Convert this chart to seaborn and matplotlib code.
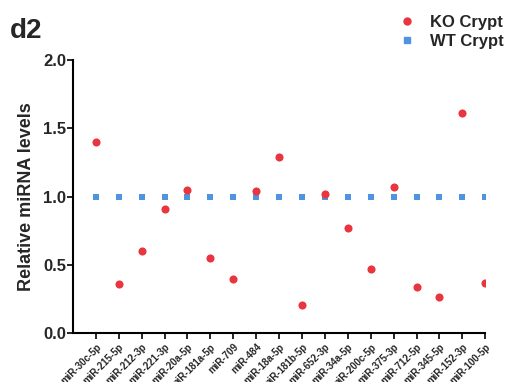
import pandas as pd
import matplotlib
matplotlib.use("Agg")
import matplotlib.pyplot as plt
import seaborn as sns

mirnas = ["miR-30c-5p", "miR-215-5p", "miR-212-3p", "miR-221-3p", "miR-20a-5p",
          "miR-181a-5p", "miR-709", "miR-484", "miR-18a-5p", "miR-181b-5p",
          "miR-652-3p", "miR-34a-5p", "miR-200c-5p", "miR-375-3p", "miR-712-5p",
          "miR-345-5p", "miR-152-3p", "miR-100-5p"]
ko_crypt = [1.40, 0.36, 0.60, 0.91, 1.05, 0.55, 0.40, 1.04, 1.29, 0.21,
            1.02, 0.77, 0.47, 1.07, 0.34, 0.27, 1.61, 0.37]
wt_crypt = [1.0] * len(mirnas)

df = pd.concat([
    pd.DataFrame({"miRNA": mirnas, "level": wt_crypt, "group": "WT Crypt"}),
    pd.DataFrame({"miRNA": mirnas, "level": ko_crypt, "group": "KO Crypt"}),
])

sns.set_style("ticks")
plt.rcParams["font.family"] = ["Liberation Sans", "DejaVu Sans"]
plt.rcParams["font.weight"] = "bold"

fig = plt.figure(figsize=(5.14, 3.82), dpi=100)
ax = fig.add_axes([0.142, 0.127, 0.802, 0.716])

palette = {"KO Crypt": "#e8353f", "WT Crypt": "#4f94de"}
markers = {"KO Crypt": "o", "WT Crypt": "s"}
sizes = {"KO Crypt": 34, "WT Crypt": 20}

for grp in ["WT Crypt", "KO Crypt"]:
    sub = df[df["group"] == grp]
    sns.scatterplot(data=sub, x="miRNA", y="level", ax=ax, color=palette[grp],
                    marker=markers[grp], s=sizes[grp], linewidth=0, label=grp,
                    legend=False, zorder=3)

ax.set_xlim(-1, 17)
ax.set_ylim(0, 2.0)
ax.set_yticks([0.0, 0.5, 1.0, 1.5, 2.0])
ax.set_yticklabels(["0.0", "0.5", "1.0", "1.5", "2.0"], fontsize=12, fontweight="bold")
ax.set_xticks(range(len(mirnas)))
ax.set_xticklabels(mirnas, rotation=45, ha="right", rotation_mode="anchor",
                   fontsize=7, fontweight="bold")
ax.tick_params(axis="both", direction="out", length=4, width=1.2, color="black", pad=2)
ax.tick_params(axis="y", pad=1)
for side in ["left", "bottom"]:
    ax.spines[side].set_linewidth(1.5)
    ax.spines[side].set_color("black")
sns.despine(ax=ax)

ax.set_xlabel("")
ax.set_ylabel("Relative miRNA levels", fontsize=13, fontweight="bold", labelpad=6)

handles = [
    plt.Line2D([], [], marker="o", color=palette["KO Crypt"], linestyle="", markersize=5),
    plt.Line2D([], [], marker="s", color=palette["WT Crypt"], linestyle="", markersize=4),
]
fig.legend(handles, ["KO Crypt", "WT Crypt"], loc="upper right",
           bbox_to_anchor=(1.01, 1.0), frameon=False, handletextpad=0.4,
           labelspacing=0.25, prop={"weight": "bold", "size": 12})

fig.text(0.02, 0.90, "d2", fontsize=20, fontweight="bold")

fig.savefig("out.png", dpi=100)
